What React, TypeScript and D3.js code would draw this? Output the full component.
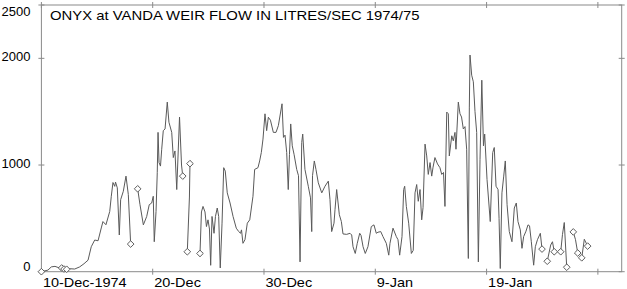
import React, { Component } from "react"
import * as d3 from "d3"

// x values are days after 10-Dec-1974, null flow = break in the record
const tickDays = [0, 10, 20, 30, 40, 50]
const tickLabels = ["10-Dec-1974", "20-Dec", "30-Dec", "9-Jan", "19-Jan", ""]
const flowTicks = [0, 1000, 2000, 2500]

const days = [
  0, 0.59, 0.89, 1.22, 1.49, 1.82, 2.03, 2.27, 2.54, 2.99, 3.44, 3.83, 4.19, 4.48, 4.79, 5.09,
  5.38, 5.53, 5.80, 6.14, 6.28, 6.43, 6.59, 6.66, 6.82, 7.00, 7.12, 7.36, 7.60, 7.81, 8.02,
  8.3,
  8.65, 8.86, 9.16, 9.46, 9.69, 9.91, 10.05, 10.14, 10.30, 10.41, 10.48, 10.57, 10.70, 10.81,
  10.95, 11.11, 11.31, 11.46, 11.71, 11.85, 12.00, 12.16, 12.41, 12.59, 12.70,
  12.9,
  13.11, 13.30, 13.35,
  13.8,
  14.25, 14.38, 14.52, 14.70, 14.83, 14.97, 15.10, 15.21, 15.33, 15.51, 15.64, 15.80, 15.93,
  16.07, 16.23, 16.38, 16.52, 16.70, 16.95, 17.22, 17.51, 17.73, 17.89, 17.98, 18.11, 18.29,
  18.50, 18.72, 19.01, 19.16, 19.46, 19.61, 19.76, 19.91, 20.09, 20.24, 20.39, 20.58, 20.84,
  21.08, 21.29, 21.62, 21.75, 21.89, 22.04, 22.18, 22.29, 22.40, 22.54, 22.70, 22.94, 23.10,
  23.24, 23.39, 23.48, 23.68, 23.98, 24.18, 24.29, 24.36, 24.52, 24.67, 24.88, 25.19, 25.48,
  25.78, 25.93, 26.08, 26.29, 26.38, 26.53, 26.77, 26.95, 27.10, 27.43, 27.73, 27.88, 28.00,
  28.20, 28.38, 28.60, 28.72, 28.90, 29.10, 29.34, 29.64, 29.88, 30.09, 30.24, 30.49, 30.69,
  30.99, 31.21, 31.32, 31.59, 31.89, 32.04, 32.19, 32.40, 32.55, 32.64, 32.79, 33.00, 33.24,
  33.41, 33.57, 33.72, 33.86, 34.02, 34.17, 34.29, 34.47, 34.62, 34.76, 34.92, 35.07, 35.19,
  35.36, 35.59, 35.81, 35.97, 36.13, 36.26, 36.42, 36.56, 36.65, 36.87, 37.01, 37.16, 37.25,
  37.46, 37.61, 37.75, 37.91, 38.06, 38.21, 38.36, 38.45, 38.51, 38.66, 38.81, 38.96, 39.11,
  39.26, 39.41, 39.57, 39.72, 39.83, 40.04, 40.33, 40.55, 40.69, 40.85, 41.03, 41.12, 41.23,
  41.38, 41.54, 41.68, 41.84, 42.04, 42.28, 42.49, 42.67, 42.82, 43.03, 43.18, 43.33, 43.54,
  43.72, 43.86, 44.02, 44.23, 44.38, 44.57, 44.83, 44.98,
  45.2,
  45.45, 45.76, 45.92, 46.08,
  46.4,
  46.66, 46.82, 46.98, 47.20,
  47.5,
  47.79, 47.99, 48.19,
  48.4,
  48.55, 48.78, 49.08
]

const flow = [
  0, 15, 45, 50, 40, 35, 25, 23, 28, 25, 45, 75, 108, 234, 297, 290,
  410, 470, 440, 565, 707, 836, 800, 840, 786, 344, 675, 754, 896, 723, 259,
  null,
  777, 628, 439, 517, 628, 644, 707, 281, 565, 928, 1306, 1023, 990, 1148,
  1322, 1338, 1590, 1401, 1306, 1070, 1132, 770, 1450, 1000, 896,
  null,
  187, 700, 1013,
  null,
  171, 560, 612, 560, 423, 486, 400, 60, 518, 360, 518, 597, 518,
  35, 455, 975, 943, 739, 644, 518, 408, 376, 360, 392, 266, 300,
  455, 486, 707, 959, 975, 1038, 1117, 1243, 1480, 1322, 1448, 1420, 1306,
  1306, 1369, 1574, 1259, 1280, 1117, 770, 1100, 1385, 1180, 1101, 959, 900,
  92, 1212, 1290, 959, 801, 692, 376, 900, 1038, 959, 833, 739, 801,
  849, 675, 376, 455, 581, 770, 534, 470, 354, 350, 360, 344, 234,
  171, 266, 360, 340, 234, 171, 234, 423, 439, 360, 370, 376, 329,
  266, 155, 266, 408, 329, 300, 155, 329, 770, 801, 612, 455, 171,
  200, 739, 817, 660, 770, 486, 600, 1196, 1085, 912, 1023, 896, 980,
  1070, 1010, 975, 912, 930, 612, 1496, 1480, 1085, 1274, 1227, 1306, 1148,
  1590, 1480, 1450, 1338, 1360, 1148, 124, 1543, 2031, 1842, 1780, 1500, 1306,
  92, 1054, 1795, 1180, 1290, 865, 470, 1117, 1164, 801, 770, 500, 30,
  739, 896, 1038, 628, 376, 281, 597, 644, 470, 392, 219, 329, 380,
  439, 430, 281, 61, 234, 300, 360, 212,
  null,
  98, 250, 281, 187,
  null,
  187, 350, 461, 42,
  null,
  373, 300, 175,
  null,
  130, 304, 240
]

// gauged / observed readings drawn as diamonds
const markDays = [0, 1.82, 2.03, 2.27, 8.02, 8.65, 12.70, 13.11, 13.35, 14.25, 44.98, 45.45, 46.08, 46.66, 47.20, 47.79, 48.19, 48.55, 49.08]
const markFlow = [0, 35, 25, 23, 259, 777, 896, 187, 1013, 171, 212, 98, 187, 187, 42, 373, 175, 130, 240]

class App extends Component {
  svgRef: any = React.createRef()

  drawChart() {
    const left = 41.4, right = 621.7, top = 5, bottom = 271.7
    const font = "'Liberation Sans', Arial, sans-serif"
    const stretch = 1.16

    const svg = d3.select(this.svgRef.current)
    svg.selectAll("*").remove()

    const x = d3.scaleLinear().domain([0, 52.14]).range([left, right])
    const y = d3.scaleLinear().domain([0, 2500]).range([bottom, top])

    const frameColor = "#8a8a8a"

    svg.append("rect")
      .attr("x", left).attr("y", top)
      .attr("width", right - left).attr("height", bottom - top)
      .attr("fill", "none").attr("stroke", frameColor).attr("stroke-width", 1)

    // x ticks top and bottom, crossing the frame
    tickDays.forEach(d => {
      const xx = x(d)
      svg.append("line").attr("x1", xx).attr("x2", xx).attr("y1", bottom - 3).attr("y2", bottom + 3).attr("stroke", frameColor)
      svg.append("line").attr("x1", xx).attr("x2", xx).attr("y1", top - 3).attr("y2", top + 3).attr("stroke", frameColor)
    })
    flowTicks.forEach(v => {
      const yy = y(v)
      svg.append("line").attr("x1", left - 3).attr("x2", left + 3).attr("y1", yy).attr("y2", yy).attr("stroke", frameColor)
      svg.append("line").attr("x1", right - 3).attr("x2", right + 3).attr("y1", yy).attr("y2", yy).attr("stroke", frameColor)
    })

    svg.selectAll(".xlab").data(tickDays).join("text").attr("class", "xlab")
      .attr("transform", d => `translate(${x(d) + 1.5},${286.5}) scale(${stretch},1)`)
      .attr("font-family", font).attr("font-size", 12.5).attr("fill", "#000")
      .text((d, i) => tickLabels[i])

    svg.selectAll(".ylab").data(flowTicks).join("text").attr("class", "ylab")
      .attr("transform", d => {
        const c = Math.max(11.7, Math.min(266.7, y(d) - 1.5))
        return `translate(30.5,${c + 4.5}) scale(1.04,1)`
      })
      .attr("text-anchor", "end")
      .attr("font-family", font).attr("font-size", 12.5).attr("fill", "#000")
      .text(d => String(d))

    svg.append("text")
      .attr("transform", `translate(50,20) scale(1.19,1)`)
      .attr("font-family", font).attr("font-size", 12.5).attr("fill", "#000")
      .text("ONYX at VANDA WEIR FLOW IN LITRES/SEC 1974/75")

    const line = d3.line<number>()
      .defined(i => flow[i] != null)
      .x(i => x(days[i]))
      .y(i => y(flow[i] as number))

    svg.append("path")
      .attr("d", line(d3.range(days.length)))
      .attr("fill", "none").attr("stroke", "#5a5a5a").attr("stroke-width", 1)

    const diamond = d3.symbol().type(d3.symbolSquare).size(22)
    svg.selectAll(".mark").data(markDays).join("path").attr("class", "mark")
      .attr("d", diamond())
      .attr("transform", (d, i) => `translate(${x(d)},${y(markFlow[i])}) rotate(45)`)
      .attr("fill", "#fff").attr("stroke", "#555").attr("stroke-width", 0.9)
  }

  componentDidMount() {
    this.drawChart()
  }

  componentDidUpdate() {
    this.drawChart()
  }

  render() {
    return (
      <svg ref={this.svgRef} width={627} height={289}
        style={{ position: "absolute", left: 0, top: 0, background: "#fff" }} />
    )
  }
}

export default App
